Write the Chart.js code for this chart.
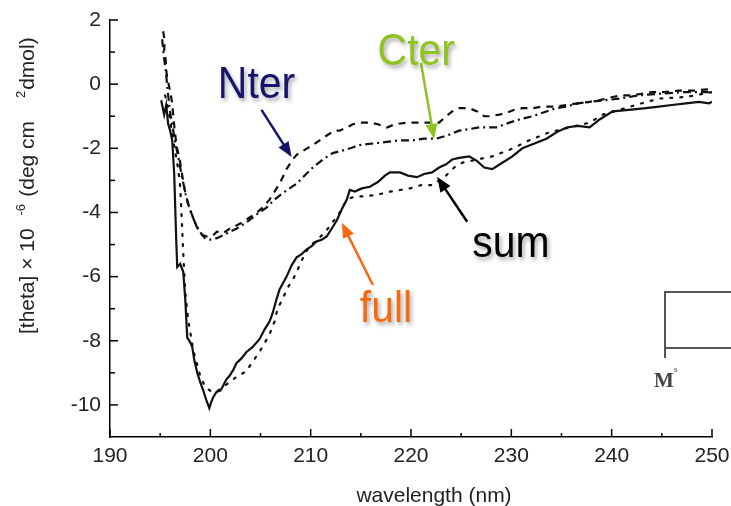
<!DOCTYPE html>
<html>
<head>
<meta charset="utf-8">
<script src="https://cdn.jsdelivr.net/npm/chart.js@4.4.1/dist/chart.umd.min.js"></script>
<style>
  body { margin: 0; background: #fff; }
  #myChart { display: block; }
</style>
</head>
<body>
<canvas id="myChart" width="731" height="506"></canvas>
<script>
// --- data (wavelength nm / [theta] x 10^-6) ---
const xTicks = [190, 200, 210, 220, 230, 240, 250];
const xMinor = [195, 205, 215, 225, 235, 245];
const yTicks = [-10, -8, -6, -4, -2, 0, 2];
const yMinor = [-9, -7, -5, -3, -1, 1];

// full (solid)
const fullWl = [195.1, 195.4, 195.6, 195.8, 196.0, 196.2, 196.4, 196.6, 196.7, 197.0, 197.3, 197.5, 197.7, 198.0, 198.2, 198.4, 198.7, 199.0, 199.3, 199.6, 199.9, 200.1, 200.3, 200.6, 201.0, 201.2, 201.6, 201.9, 202.3, 202.6, 203.1, 203.6, 204.2, 204.9, 205.4, 205.9, 206.2, 206.6, 206.9, 207.6, 208.1, 208.6, 209.1, 209.6, 210.1, 210.6, 211.1, 211.6, 212.1, 212.6, 213.1, 213.6, 213.9, 214.4, 215.1, 215.9, 216.7, 217.4, 217.9, 218.9, 219.7, 220.6, 221.3, 222.1, 222.8, 223.5, 224.1, 224.8, 225.8, 226.6, 227.3, 228.1, 229.1, 230.1, 231.1, 232.3, 233.5, 234.5, 235.5, 236.6, 237.8, 238.8, 240.1, 241.7, 243.4, 244.7, 246.0, 247.4, 248.7, 249.7, 250.0];
const fullVal = [-0.5, -0.95, -0.65, -1.25, -1.45, -1.75, -2.8, -4.85, -5.7, -5.6, -5.85, -6.7, -7.9, -8.05, -8.2, -8.6, -9.0, -9.3, -9.55, -9.85, -10.1, -9.9, -9.75, -9.6, -9.55, -9.45, -9.2, -9.1, -8.9, -8.7, -8.55, -8.35, -8.2, -7.95, -7.65, -7.4, -7.15, -6.7, -6.4, -6.0, -5.65, -5.4, -5.3, -5.15, -5.05, -4.9, -4.85, -4.75, -4.5, -4.25, -3.9, -3.6, -3.3, -3.35, -3.25, -3.2, -3.05, -2.85, -2.75, -2.75, -2.85, -2.9, -2.8, -2.75, -2.6, -2.5, -2.35, -2.3, -2.25, -2.4, -2.6, -2.65, -2.45, -2.25, -2.0, -1.85, -1.7, -1.5, -1.35, -1.3, -1.35, -1.1, -0.85, -0.8, -0.75, -0.7, -0.65, -0.6, -0.55, -0.6, -0.55];

// sum (dotted)
const sumWl = [195.5, 195.9, 196.3, 196.8, 197.0, 197.2, 197.3, 197.5, 197.8, 198.3, 198.6, 199.0, 199.5, 200.2, 200.8, 201.2, 201.9, 202.7, 203.6, 204.1, 204.9, 205.9, 206.4, 206.7, 207.2, 207.7, 208.3, 208.9, 209.4, 209.9, 210.7, 211.6, 212.2, 212.9, 213.6, 214.4, 215.4, 216.6, 217.9, 219.9, 221.0, 222.1, 222.8, 223.5, 224.3, 225.1, 226.6, 228.1, 229.8, 231.8, 233.8, 235.8, 237.8, 239.1, 240.8, 242.4, 244.7, 247.4, 250.0];
const sumVal = [-0.35, -0.95, -1.75, -2.65, -3.2, -4.55, -5.25, -6.5, -7.35, -8.3, -8.65, -9.1, -9.45, -9.6, -9.55, -9.45, -9.3, -9.1, -8.95, -8.7, -8.35, -7.8, -7.4, -7.0, -6.7, -6.35, -6.05, -5.65, -5.3, -5.05, -4.85, -4.55, -4.3, -4.0, -3.6, -3.5, -3.5, -3.45, -3.35, -3.25, -3.15, -3.15, -3.0, -2.85, -2.6, -2.45, -2.35, -2.25, -2.05, -1.75, -1.5, -1.35, -1.2, -0.95, -0.8, -0.65, -0.45, -0.4, -0.25];

// Nter (dashed)
const nterWl = [195.3, 195.45, 195.4, 195.55, 195.65, 195.85, 196.15, 196.3, 196.45, 196.65, 196.95, 197.15, 197.45, 197.75, 198.15, 198.65, 199.15, 199.65, 200.15, 200.65, 201.25, 201.95, 202.65, 203.25, 203.95, 204.65, 205.2, 205.9, 206.4, 206.9, 207.6, 208.2, 208.6, 209.4, 210.2, 210.9, 211.6, 212.4, 212.9, 213.6, 214.2, 214.9, 215.9, 216.7, 217.6, 218.4, 219.6, 220.6, 221.5, 222.8, 223.5, 224.1, 224.8, 225.8, 226.6, 227.3, 227.8, 228.8, 229.5, 230.3, 231.1, 232.1, 233.1, 234.3, 235.5, 236.6, 237.8, 238.8, 240.1, 241.0, 242.0, 243.0, 244.0, 245.2, 246.7, 248.2, 250.0];
const nterVal = [1.65, 1.35, 1.05, 0.75, 0.3, 0.0, -0.5, -0.95, -1.45, -1.95, -2.35, -2.75, -3.3, -3.7, -4.05, -4.45, -4.7, -4.75, -4.75, -4.6, -4.65, -4.5, -4.4, -4.3, -4.15, -4.0, -3.85, -3.6, -3.35, -3.1, -2.65, -2.35, -2.2, -2.05, -1.9, -1.75, -1.6, -1.45, -1.45, -1.35, -1.25, -1.2, -1.2, -1.25, -1.35, -1.25, -1.2, -1.2, -1.2, -1.2, -1.0, -0.85, -0.75, -0.75, -0.85, -1.0, -1.0, -0.95, -0.9, -0.8, -0.75, -0.75, -0.7, -0.7, -0.65, -0.6, -0.55, -0.5, -0.4, -0.35, -0.35, -0.3, -0.25, -0.25, -0.2, -0.2, -0.15];

// Cter (dash-dot)
const cterWl = [195.2, 195.35, 195.55, 195.75, 195.95, 196.25, 196.55, 196.85, 197.15, 197.55, 197.95, 198.45, 198.95, 199.45, 199.95, 200.65, 201.65, 202.65, 203.65, 204.65, 205.6, 206.4, 207.2, 207.9, 208.6, 209.4, 210.2, 211.2, 212.2, 213.4, 214.9, 216.2, 217.6, 218.9, 220.2, 221.3, 222.5, 223.6, 224.8, 225.8, 226.8, 228.5, 229.8, 230.8, 232.1, 233.5, 234.5, 235.5, 236.6, 237.8, 239.3, 240.8, 242.7, 244.7, 247.2, 250.0];
const cterVal = [1.4, 0.9, 0.45, -0.2, -0.8, -1.35, -1.9, -2.35, -2.85, -3.45, -3.9, -4.3, -4.6, -4.8, -4.85, -4.8, -4.65, -4.5, -4.3, -4.05, -3.85, -3.6, -3.4, -3.25, -3.1, -2.85, -2.6, -2.35, -2.15, -2.05, -1.9, -1.85, -1.8, -1.75, -1.75, -1.7, -1.7, -1.6, -1.45, -1.4, -1.35, -1.35, -1.2, -1.1, -1.0, -0.85, -0.75, -0.7, -0.6, -0.55, -0.5, -0.45, -0.35, -0.3, -0.25, -0.25];

// labels with arrows, placed in data units: [text, color, textX, textY, fromX, fromY, toX, toY]
const notes = [
    ['Nter', '#17156b', 200.75, -0.43, 205.1, -0.8, 208.1, -2.27],
    ['Cter', '#8fc31f', 216.67, 0.6, 221.0, 0.66, 222.3, -1.71],
    ['sum', '#000000', 226.1, -5.38, 225.6, -4.29, 222.6, -2.89],
    ['full', '#f76a12', 214.9, -7.41, 216.2, -6.26, 213.1, -4.32]
];

const pts = (wl, val) => wl.map((w, i) => ({ x: w, y: val[i] }));

const line = (c, x1, y1, x2, y2) => {
    c.beginPath();
    c.moveTo(x1, y1);
    c.lineTo(x2, y2);
    c.stroke();
};

const decor = {
    id: 'decor',
    afterDraw(chart) {
        const c = chart.ctx;
        const xs = chart.scales.x;
        const ys = chart.scales.y;
        const left = chart.chartArea.left;
        const bottom = chart.chartArea.bottom;
        c.save();
        //--inward ticks--
        c.strokeStyle = '#000';
        c.lineWidth = 1.5;
        xTicks.forEach(v => { const p = xs.getPixelForValue(v); line(c, p, bottom, p, bottom - 8); });
        xMinor.forEach(v => { const p = xs.getPixelForValue(v); line(c, p, bottom, p, bottom - 4); });
        yTicks.forEach(v => { const p = ys.getPixelForValue(v); line(c, left, p, left + 8, p); });
        yMinor.forEach(v => { const p = ys.getPixelForValue(v); line(c, left, p, left + 5, p); });

        //--axis titles--
        c.fillStyle = '#222';
        c.font = '21px "Liberation Sans", Arial, sans-serif';
        c.textBaseline = 'alphabetic';
        c.textAlign = 'center';
        c.fillText('wavelength (nm)', 434, 502);

        c.save();
        c.translate(34, 183);
        c.rotate(-Math.PI / 2);
        const big = '21px "Liberation Sans", Arial, sans-serif';
        const small = '13px "Liberation Sans", Arial, sans-serif';
        const parts = [['[theta] × 10', big, 0], ['-6', small, -9], [' (deg cm  ', big, 0], ['2', small, -9], ['dmol)', big, 0]];
        c.textAlign = 'left';
        let total = 0;
        parts.forEach(p => { c.font = p[1]; total += c.measureText(p[0]).width; });
        const stretch = 303 / total;
        let pos = -151;
        parts.forEach(p => {
            c.font = p[1];
            c.fillText(p[0], pos, p[2]);
            pos += c.measureText(p[0]).width * stretch;
        });
        c.restore();

        //--inset corner from the neighbouring panel--
        c.strokeStyle = '#555';
        c.lineWidth = 2;
        c.beginPath();
        c.moveTo(731, 292);
        c.lineTo(665, 292);
        c.lineTo(665, 358);
        c.moveTo(665, 348);
        c.lineTo(731, 348);
        c.stroke();
        c.fillStyle = '#444';
        c.font = 'bold 21px "Liberation Serif", "Times New Roman", serif';
        c.textAlign = 'left';
        c.fillText('M', 654, 387);
        c.font = '9px "Liberation Serif", serif';
        c.fillText('s', 674, 372);

        //--labels and arrows--
        notes.forEach(n => {
            const [txt, col, tx, ty, fx, fy, ax, ay] = n;
            const x1 = xs.getPixelForValue(fx), y1 = ys.getPixelForValue(fy);
            const x2 = xs.getPixelForValue(ax), y2 = ys.getPixelForValue(ay);
            const ang = Math.atan2(y2 - y1, x2 - x1);
            const head = 15;
            c.strokeStyle = col;
            c.fillStyle = col;
            c.lineWidth = 2.5;
            line(c, x1, y1, x2 - Math.cos(ang) * head * 0.8, y2 - Math.sin(ang) * head * 0.8);
            c.beginPath();
            c.moveTo(x2, y2);
            c.lineTo(x2 - head * Math.cos(ang) + 6 * Math.sin(ang), y2 - head * Math.sin(ang) - 6 * Math.cos(ang));
            c.lineTo(x2 - head * Math.cos(ang) - 6 * Math.sin(ang), y2 - head * Math.sin(ang) + 6 * Math.cos(ang));
            c.closePath();
            c.fill();

            c.save();
            c.shadowColor = 'rgba(0, 0, 0, 0.35)';
            c.shadowOffsetX = 2;
            c.shadowOffsetY = 3;
            c.shadowBlur = 4;
            c.translate(xs.getPixelForValue(tx), ys.getPixelForValue(ty));
            c.scale(0.93, 1);
            c.font = '44px "Liberation Sans", Arial, sans-serif';
            c.textAlign = 'left';
            c.textBaseline = 'alphabetic';
            c.fillText(txt, 0, 0);
            c.restore();
        });
        c.restore();
    }
};

const ctx = document.getElementById('myChart');

const myChart = new Chart(ctx, {
    type: 'line',
    data: {
        datasets: [
            { label: 'full', data: pts(fullWl, fullVal), borderColor: '#111', borderWidth: 2.2 },
            { label: 'sum', data: pts(sumWl, sumVal), borderColor: '#111', borderWidth: 2.2, borderDash: [2, 8], borderCapStyle: 'round' },
            { label: 'Nter', data: pts(nterWl, nterVal), borderColor: '#111', borderWidth: 2.2, borderDash: [7, 6] },
            { label: 'Cter', data: pts(cterWl, cterVal), borderColor: '#111', borderWidth: 2.2, borderDash: [8, 4, 2, 4] }
        ]
    },
    options: {
        responsive: false,
        animation: false,
        devicePixelRatio: 1,
        layout: { padding: { left: 0, right: 19, top: 20, bottom: 0 } },
        elements: {
            point: { radius: 0 },
            line: { tension: 0, fill: false }
        },
        plugins: {
            legend: { display: false },
            tooltip: { enabled: false }
        },
        scales: {
            x: {
                type: 'linear',
                min: 190,
                max: 250,
                afterBuildTicks: s => { s.ticks = xTicks.map(v => ({ value: v })); },
                afterFit: s => { s.height = 69; s.paddingLeft = 0; s.paddingRight = 0; },
                grid: { display: false, drawTicks: false },
                border: { display: true, color: '#000', width: 1.5 },
                ticks: { color: '#222', padding: 7, maxRotation: 0, font: { size: 21, family: '"Liberation Sans", Arial, sans-serif' } }
            },
            y: {
                type: 'linear',
                min: -11,
                max: 2,
                afterBuildTicks: s => { s.ticks = yTicks.map(v => ({ value: v })); },
                afterFit: s => { s.width = 110; s.paddingTop = 0; s.paddingBottom = 0; },
                grid: { display: false, drawTicks: false },
                border: { display: true, color: '#000', width: 1.5 },
                ticks: { color: '#222', padding: 9, font: { size: 21, family: '"Liberation Sans", Arial, sans-serif' } }
            }
        }
    },
    plugins: [decor]
});
</script>
</body>
</html>
